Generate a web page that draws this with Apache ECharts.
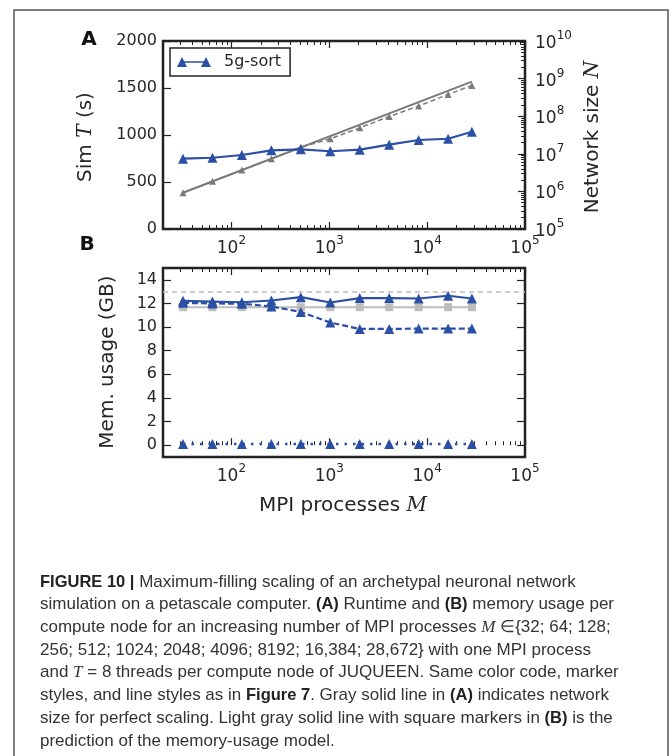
<!DOCTYPE html>
<html>
<head>
<meta charset="utf-8">
<script src="https://cdn.jsdelivr.net/npm/echarts@6/dist/echarts.min.js"></script>
<style>
html,body{margin:0;padding:0;background:#fff;}
#chart{width:672px;height:756px;}
</style>
</head>
<body>
<div id="chart"></div>
<script>
// ---------------- data ----------------
const mpiProcesses = [32, 64, 128, 256, 512, 1024, 2048, 4096, 8192, 16384, 28672];
// Panel A
const simTime5gSort = [748, 758, 787, 837, 848, 827, 844, 897, 947, 960, 1035];
const networkSize = [9.2e5, 1.85e6, 3.7e6, 7.4e6, 1.5e7, 2.5e7, 4.9e7, 9.8e7, 1.86e8, 3.8e8, 6.6e8];
const perfectScalingM = [32, 28672];
const perfectScalingN = [9.2e5, 8.3e8];
// Panel B
const memTotal = [12.22, 12.16, 12.1, 12.25, 12.53, 12.08, 12.45, 12.45, 12.42, 12.65, 12.42];
const memDashed = [12.05, 12.0, 11.98, 11.74, 11.28, 10.38, 9.84, 9.84, 9.87, 9.87, 9.87];
const memDotted = [0.1, 0.1, 0.1, 0.1, 0.1, 0.1, 0.1, 0.1, 0.1, 0.1, 0.1];
const memModel = [11.68, 11.68, 11.68, 11.68, 11.68, 11.68, 11.68, 11.68, 11.68, 11.68, 11.68];
const memLimit = 13;
// ticks
const xMajorTicks = [100, 1000, 10000, 100000];
const xMinorTicks = [20,30,40,50,60,70,80,90,200,300,400,500,600,700,800,900,
  2000,3000,4000,5000,6000,7000,8000,9000,20000,30000,40000,50000,60000,70000,80000,90000];
const yLeftTicksA = [0, 500, 1000, 1500, 2000];
const yRightMajorA = [1e5, 1e6, 1e7, 1e8, 1e9, 1e10];
const yRightMinorA = [2e5,3e5,4e5,5e5,6e5,7e5,8e5,9e5, 2e6,3e6,4e6,5e6,6e6,7e6,8e6,9e6,
  2e7,3e7,4e7,5e7,6e7,7e7,8e7,9e7, 2e8,3e8,4e8,5e8,6e8,7e8,8e8,9e8, 2e9,3e9,4e9,5e9,6e9,7e9,8e9,9e9];
const yTicksB = [0, 2, 4, 6, 8, 10, 12, 14];

const pairs = (xs, ys) => xs.map((x, i) => [x, ys[i]]);

// ---------------- styles ----------------
const BLUE = '#2b4fa5';
const GRAY = '#7a7a7a';
const LGRAY = '#bdbdbd';
const TXT = '#262626';
const FONT = 'DejaVu Sans';
const supRich = {
  b: {fontSize: 17, fontFamily: FONT, color: TXT, verticalAlign: 'bottom', lineHeight: 22},
  s: {fontSize: 12, fontFamily: FONT, color: TXT, verticalAlign: 'top', lineHeight: 22}
};
const powFmt = v => '{b|10}{s|' + Math.round(Math.log10(v)) + '}';

function xAxes(grid) {
  const base = {type: 'log', gridIndex: grid, min: 20, max: 100000, logBase: 10,
    axisLine: {show: false}, splitLine: {show: false}};
  return [
    Object.assign({}, base, {position: 'bottom',
      axisTick: {show: true, inside: true, length: 7, lineStyle: {color: '#222', width: 1.2}, customValues: xMajorTicks},
      axisLabel: {show: true, margin: 6, customValues: xMajorTicks, formatter: powFmt, rich: supRich}}),
    Object.assign({}, base, {position: 'bottom',
      axisTick: {show: true, inside: true, length: 4, lineStyle: {color: '#222', width: 1}, customValues: xMinorTicks},
      axisLabel: {show: false}}),
    Object.assign({}, base, {position: 'top',
      axisTick: {show: true, inside: true, length: 7, lineStyle: {color: '#222', width: 1.2}, customValues: xMajorTicks},
      axisLabel: {show: false}}),
    Object.assign({}, base, {position: 'top',
      axisTick: {show: true, inside: true, length: 4, lineStyle: {color: '#222', width: 1}, customValues: xMinorTicks},
      axisLabel: {show: false}})
  ];
}

const option = {
  animation: false,
  backgroundColor: '#fff',
  grid: [
    {left: 163, top: 41, width: 362, height: 188, show: true, borderColor: '#222', borderWidth: 2.5, backgroundColor: 'transparent'},
    {left: 163, top: 268, width: 362, height: 189, show: true, borderColor: '#222', borderWidth: 2.5, backgroundColor: 'transparent'}
  ],
  legend: {
    data: ['5g-sort'], left: 170, top: 48, orient: 'vertical',
    borderColor: '#222', borderWidth: 1.5, padding: [6, 9, 6, 7], borderRadius: 0,
    itemWidth: 34, itemHeight: 11, itemGap: 0,
    icon: 'path://M0,11 L5,1 L10,11 Z M5,5.2 L29,5.2 L29,6.8 L5,6.8 Z M24,11 L29,1 L34,11 Z',
    textStyle: {fontFamily: FONT, fontSize: 16, color: TXT, padding: [0, 0, 0, 8]}
  },
  xAxis: xAxes(0).concat(xAxes(1)),
  yAxis: [
    {type: 'value', gridIndex: 0, position: 'left', min: 0, max: 2000, interval: 500,
      axisLine: {show: false}, splitLine: {show: false},
      axisTick: {show: true, inside: true, length: 8, lineStyle: {color: '#222', width: 1.2}, customValues: yLeftTicksA},
      axisLabel: {fontFamily: FONT, fontSize: 16, color: TXT, margin: 6, customValues: yLeftTicksA, formatter: v => String(v)}},
    {type: 'log', gridIndex: 0, position: 'right', min: 1e5, max: 1e10, logBase: 10,
      axisLine: {show: false}, splitLine: {show: false},
      axisTick: {show: true, inside: true, length: 7, lineStyle: {color: '#222', width: 1.2}, customValues: yRightMajorA},
      axisLabel: {show: true, margin: 10, customValues: yRightMajorA, formatter: powFmt, rich: supRich}},
    {type: 'log', gridIndex: 0, position: 'right', min: 1e5, max: 1e10, logBase: 10,
      axisLine: {show: false}, splitLine: {show: false},
      axisTick: {show: true, inside: true, length: 4, lineStyle: {color: '#222', width: 1}, customValues: yRightMinorA},
      axisLabel: {show: false}},
    {type: 'value', gridIndex: 1, position: 'left', min: -1, max: 15,
      axisLine: {show: false}, splitLine: {show: false},
      axisTick: {show: true, inside: true, length: 8, lineStyle: {color: '#222', width: 1.2}, customValues: yTicksB},
      axisLabel: {fontFamily: FONT, fontSize: 16, color: TXT, margin: 6, customValues: yTicksB, formatter: v => String(v)}},
    {type: 'value', gridIndex: 1, position: 'right', min: -1, max: 15,
      axisLine: {show: false}, splitLine: {show: false},
      axisTick: {show: true, inside: true, length: 8, lineStyle: {color: '#222', width: 1.2}, customValues: yTicksB},
      axisLabel: {show: false}}
  ],
  series: [
    {name: 'perfect scaling', type: 'line', xAxisIndex: 0, yAxisIndex: 1, data: pairs(perfectScalingM, perfectScalingN),
      showSymbol: false, symbol: 'none', lineStyle: {color: GRAY, width: 2}, z: 2},
    {name: 'network size', type: 'line', xAxisIndex: 0, yAxisIndex: 1, data: pairs(mpiProcesses, networkSize),
      symbol: 'triangle', symbolSize: 7, itemStyle: {color: GRAY}, lineStyle: {color: GRAY, width: 1.5, type: [5, 3]}, z: 3},
    {name: '5g-sort', type: 'line', xAxisIndex: 0, yAxisIndex: 0, data: pairs(mpiProcesses, simTime5gSort),
      symbol: 'triangle', symbolSize: 10, itemStyle: {color: BLUE}, lineStyle: {color: BLUE, width: 2.2}, z: 4},

    {name: 'model', type: 'line', xAxisIndex: 4, yAxisIndex: 3, data: pairs(mpiProcesses, memModel),
      symbol: 'rect', symbolSize: 8, itemStyle: {color: LGRAY}, lineStyle: {color: LGRAY, width: 2}, z: 2,
      markLine: {silent: true, symbol: 'none', label: {show: false},
        lineStyle: {color: LGRAY, width: 1.5, type: [5, 4]}, data: [{yAxis: memLimit}]}},
    {name: 'mem total', type: 'line', xAxisIndex: 4, yAxisIndex: 3, data: pairs(mpiProcesses, memTotal),
      symbol: 'triangle', symbolSize: 10, itemStyle: {color: BLUE}, lineStyle: {color: BLUE, width: 2.2}, z: 4},
    {name: 'mem dashed', type: 'line', xAxisIndex: 4, yAxisIndex: 3, data: pairs(mpiProcesses, memDashed),
      symbol: 'triangle', symbolSize: 10, itemStyle: {color: BLUE}, lineStyle: {color: BLUE, width: 2.2, type: [6, 3]}, z: 3},
    {name: 'mem dotted', type: 'line', xAxisIndex: 4, yAxisIndex: 3, data: pairs(mpiProcesses, memDotted),
      symbol: 'triangle', symbolSize: 10, itemStyle: {color: BLUE}, lineStyle: {color: BLUE, width: 2.5, type: [2.5, 6]}, z: 3}
  ],
  graphic: [
    {type: 'rect', shape: {x: 14, y: 10, width: 654, height: 770}, style: {fill: 'none', stroke: '#555', lineWidth: 1.5}, silent: true},
    {type: 'text', x: 89, y: 40, style: {text: 'A', font: 'bold 20px "DejaVu Sans"', fill: '#111', textAlign: 'center', textVerticalAlign: 'middle'}},
    {type: 'text', x: 87, y: 245, style: {text: 'B', font: 'bold 20px "DejaVu Sans"', fill: '#111', textAlign: 'center', textVerticalAlign: 'middle'}},
    {type: 'text', x: 86, y: 137, rotation: Math.PI / 2,
      style: {text: 'Sim {i|T} (s)', font: '20px "DejaVu Sans"', fill: TXT, textAlign: 'center', textVerticalAlign: 'middle',
        rich: {i: {font: 'italic 20px "DejaVu Serif"', fill: TXT}}}},
    {type: 'text', x: 593, y: 137, rotation: Math.PI / 2,
      style: {text: 'Network size {i|N}', font: '20px "DejaVu Sans"', fill: TXT, textAlign: 'center', textVerticalAlign: 'middle',
        rich: {i: {font: 'italic 20px "DejaVu Serif"', fill: TXT}}}},
    {type: 'text', x: 108, y: 362, rotation: Math.PI / 2,
      style: {text: 'Mem. usage (GB)', font: '20px "DejaVu Sans"', fill: TXT, textAlign: 'center', textVerticalAlign: 'middle'}},
    {type: 'text', x: 343, y: 506,
      style: {text: 'MPI processes {i|M}', font: '20px "DejaVu Sans"', fill: TXT, textAlign: 'center', textVerticalAlign: 'middle',
        rich: {i: {font: 'italic 20px "DejaVu Serif"', fill: TXT}}}}
  ]
};

const capLines = [
  '{b|FIGURE 10 |} Maximum-filling scaling of an archetypal neuronal network',
  'simulation on a petascale computer. {b|(A)} Runtime and {b|(B)} memory usage per',
  'compute node for an increasing number of MPI processes {i|M} \u2208{32; 64; 128;',
  '256; 512; 1024; 2048; 4096; 8192; 16,384; 28,672} with one MPI process',
  'and {i|T} = 8 threads per compute node of JUQUEEN. Same color code, marker',
  'styles, and line styles as in {b|Figure 7}. Gray solid line in {b|(A)} indicates network',
  'size for perfect scaling. Light gray solid line with square markers in {b|(B)} is the',
  'prediction of the memory-usage model.'
];
const capY = [582, 604.7, 627.4, 650.1, 672.8, 695.5, 718.2, 741];
capLines.forEach((t, i) => {
  option.graphic.push({type: 'text', x: 40, y: capY[i],
    style: {text: t, font: '17px "Liberation Sans"', fill: '#333', textVerticalAlign: 'middle',
      rich: {b: {font: 'bold 16.5px "Liberation Sans"', fill: '#222'},
             i: {font: 'italic 17px "Liberation Serif"', fill: '#333'}}}});
});

const chart = echarts.init(document.getElementById('chart'), null, {renderer: 'canvas'});
chart.setOption(option);
</script>
</body>
</html>
